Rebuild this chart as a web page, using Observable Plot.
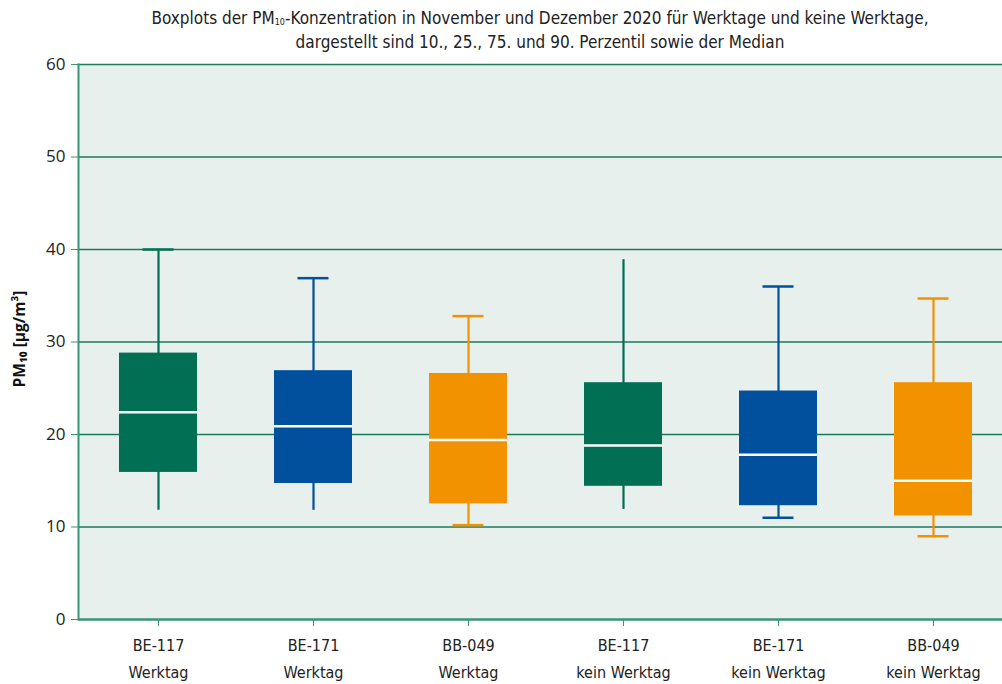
<!DOCTYPE html>
<html>
<head>
<meta charset="utf-8">
<script src="https://cdn.jsdelivr.net/npm/d3@7"></script>
<script src="https://cdn.jsdelivr.net/npm/@observablehq/plot@0.6"></script>
<style>
  html, body { margin: 0; padding: 0; background: #ffffff; }
  #wrap { width: 1002px; height: 684px; overflow: hidden; }
  #title {
    height: 46px; box-sizing: border-box; padding-top: 6px;
    padding-left: 78px;
    text-align: center; font-family: "Liberation Sans Narrow", "DejaVu Sans Condensed", sans-serif;
    font-size: 17px; line-height: 24px; color: #222; white-space: nowrap;
  }
  #title sub { font-size: 9px; line-height: 0; vertical-align: baseline; position: relative; top: 1px; }
</style>
</head>
<body>
<div id="wrap">
  <div id="title">Boxplots der PM<sub>10</sub>-Konzentration in November und Dezember 2020 für Werktage und keine Werktage,<br>dargestellt sind 10., 25., 75. und 90. Perzentil sowie der Median</div>
  <div id="chart"></div>
</div>
<script>
const stations = ["BE-117", "BE-171", "BB-049", "BE-117", "BE-171", "BB-049"];
const dayTypes = ["Werktag", "Werktag", "Werktag", "kein Werktag", "kein Werktag", "kein Werktag"];
const p10    = [11.8, 11.8, 10.2, 11.9, 11.0,  9.0];
const p25    = [15.9, 14.7, 12.5, 14.4, 12.3, 11.2];
const median = [22.4, 20.9, 19.4, 18.8, 17.8, 15.0];
const p75    = [28.8, 26.9, 26.6, 25.6, 24.7, 25.6];
const p90    = [40.0, 36.9, 32.8, 38.9, 36.0, 34.7];
const capTop    = [true, true, true, false, true, true];
const capBottom = [false, false, true, false, true, true];
const yTicks = [0, 10, 20, 30, 40, 50, 60];

const stationColors = {"BE-117": "#006f53", "BE-171": "#00509d", "BB-049": "#f39200"};

const data = stations.map((s, i) => ({
  key: s + "\n" + dayTypes[i],
  station: s,
  p10: p10[i], p25: p25[i], median: median[i], p75: p75[i], p90: p90[i],
  capTop: capTop[i], capBottom: capBottom[i]
}));
const domain = data.map(d => d.key);

const teal = "#3a9479";
const gridGreen = "#1b7a5c";

const chart = Plot.plot({
  width: 1002,
  height: 638,
  marginLeft: 78,
  marginRight: -9.5,
  marginTop: 18,
  marginBottom: 65,
  style: {fontFamily: "'Liberation Sans Narrow', 'DejaVu Sans Condensed', sans-serif", color: "#222", background: "transparent"},
  x: {domain, paddingInner: 0.5, paddingOuter: 0.25, align: 0.5, label: null},
  y: {domain: [0, 60], label: null},
  marks: [
    Plot.frame({fill: "#e8f0ed", stroke: null}),
    Plot.gridY(yTicks.filter(t => t > 0), {stroke: gridGreen, strokeOpacity: 1, strokeWidth: 1.5}),
    Plot.ruleX(data, {x: "key", y1: "p10", y2: "p90", stroke: d => stationColors[d.station], strokeWidth: 2.2}),
    Plot.barY(data, {x: "key", y1: "p25", y2: "p75", fill: d => stationColors[d.station]}),
    Plot.tickY(data, {x: "key", y: "median", stroke: "white", strokeWidth: 2.5}),
    Plot.tickY(data.filter(d => d.capTop), {x: "key", y: "p90", stroke: d => stationColors[d.station], strokeWidth: 2.5, insetLeft: 23.5, insetRight: 23.5}),
    Plot.tickY(data.filter(d => d.capBottom), {x: "key", y: "p10", stroke: d => stationColors[d.station], strokeWidth: 2.5, insetLeft: 23.5, insetRight: 23.5}),
    Plot.frame({anchor: "left", stroke: teal, strokeWidth: 2}),
    Plot.ruleY([0], {stroke: teal, strokeWidth: 2.5}),
    Plot.axisY({ticks: yTicks, tickSize: 7, tickPadding: 6, stroke: teal, fill: "#222", fontSize: 17, fontFamily: "'Open Sans', sans-serif", label: null}),
    Plot.axisX({tickSize: 7, tickPadding: 5, stroke: teal, fill: "#222", fontSize: 16, lineHeight: 1.7, label: null}),
    Plot.text(["PM₁₀ [µg/m³]"], {frameAnchor: "left", textAnchor: "middle", dx: -58, dy: -3, rotate: -90, fontWeight: "bold", fontSize: 15.5, fontFamily: "'Open Sans', sans-serif", fill: "#111"})
  ]
});
document.getElementById("chart").appendChild(chart);
</script>
</body>
</html>
